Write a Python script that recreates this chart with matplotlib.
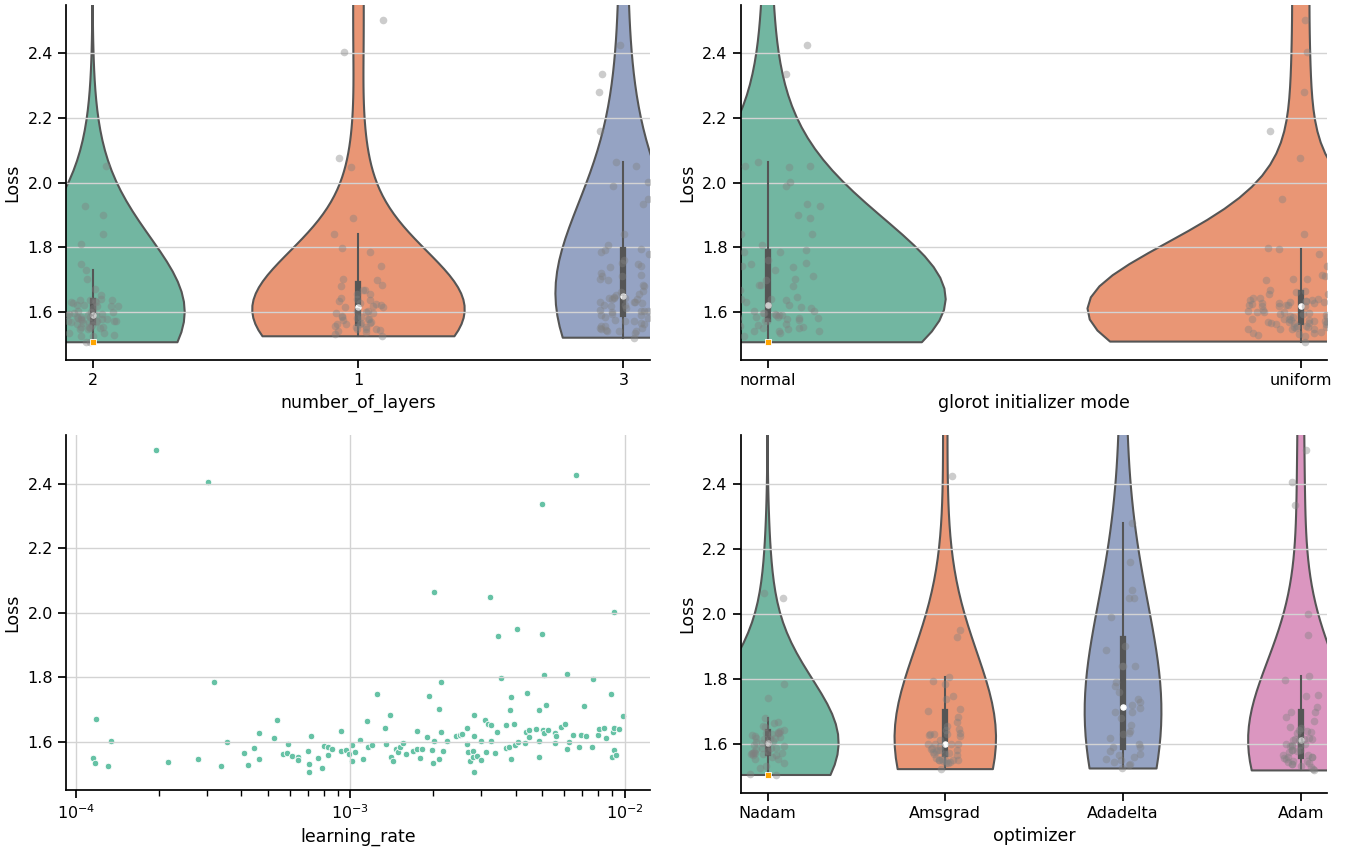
import numpy as np
import pandas as pd
import matplotlib
matplotlib.use("Agg")
import matplotlib.pyplot as plt
import seaborn as sns

# trials whose learning rate falls in the searched range (bottom-left scatter)
lr_trials = [
    1.96e-4, 3.02e-4, 3.18e-4, 1.18e-4, 1.34e-4, 1.15e-4, 1.17e-4, 1.31e-4, 2.17e-4, 2.79e-4,
    3.37e-4, 3.56e-4, 4.08e-4, 4.23e-4, 4.46e-4, 4.63e-4, 4.63e-4, 5.29e-4, 5.38e-4, 5.67e-4,
    5.89e-4, 5.93e-4, 6.15e-4, 6.45e-4, 6.45e-4, 7.03e-4, 7.04e-4, 7.04e-4, 7.16e-4, 7.63e-4,
    7.85e-4, 8.02e-4, 8.29e-4, 8.30e-4, 8.57e-4, 9.27e-4, 9.27e-4, 9.64e-4, 9.86e-4, 1.01e-3,
    1.01e-3, 1.04e-3, 1.084e-3, 1.114e-3, 1.15e-3, 1.155e-3, 1.195e-3, 1.25e-3, 1.34e-3, 1.344e-3,
    1.39e-3, 1.41e-3, 1.43e-3, 1.46e-3, 1.49e-3, 1.52e-3, 1.56e-3, 1.59e-3, 1.69e-3, 1.75e-3,
    1.75e-3, 1.79e-3, 1.82e-3, 1.90e-3, 1.94e-3, 1.99e-3, 2.00e-3, 2.01e-3, 2.02e-3, 2.11e-3,
    2.11e-3, 2.14e-3, 2.14e-3, 2.17e-3, 2.25e-3, 2.43e-3, 2.50e-3, 2.56e-3, 2.66e-3, 2.66e-3,
    2.67e-3, 2.72e-3, 2.79e-3, 2.79e-3, 2.82e-3, 2.83e-3, 2.83e-3, 2.90e-3, 2.99e-3, 2.99e-3,
    3.10e-3, 3.13e-3, 3.18e-3, 3.22e-3, 3.24e-3, 3.24e-3, 3.36e-3, 3.41e-3, 3.46e-3, 3.55e-3,
    3.70e-3, 3.70e-3, 3.78e-3, 3.82e-3, 3.83e-3, 3.84e-3, 3.94e-3, 3.98e-3, 4.06e-3, 4.09e-3,
    4.34e-3, 4.35e-3, 4.39e-3, 4.46e-3, 4.47e-3, 4.76e-3, 4.86e-3, 4.87e-3, 4.87e-3, 4.98e-3,
    5.00e-3, 5.02e-3, 5.07e-3, 5.07e-3, 5.16e-3, 5.26e-3, 5.55e-3, 5.56e-3, 5.63e-3, 5.86e-3,
    6.05e-3, 6.14e-3, 6.15e-3, 6.24e-3, 6.49e-3, 6.65e-3, 6.80e-3, 6.93e-3, 7.08e-3, 7.21e-3,
    7.57e-3, 7.65e-3, 7.95e-3, 8.07e-3, 8.36e-3, 8.55e-3, 8.92e-3, 9.00e-3, 9.04e-3, 9.10e-3,
    9.12e-3, 9.14e-3, 9.30e-3, 9.50e-3, 9.82e-3,
]
loss_trials = [
    2.505, 2.406, 1.784, 1.671, 1.603, 1.550, 1.534, 1.523, 1.538, 1.545,
    1.524, 1.599, 1.565, 1.527, 1.581, 1.626, 1.545, 1.611, 1.668, 1.561,
    1.565, 1.594, 1.555, 1.553, 1.543, 1.570, 1.530, 1.505, 1.617, 1.550,
    1.519, 1.587, 1.583, 1.560, 1.578, 1.633, 1.572, 1.574, 1.561, 1.589,
    1.540, 1.567, 1.605, 1.547, 1.665, 1.583, 1.589, 1.747, 1.641, 1.593,
    1.682, 1.552, 1.541, 1.576, 1.568, 1.582, 1.595, 1.561, 1.570, 1.633,
    1.578, 1.549, 1.578, 1.613, 1.742, 1.575, 1.533, 2.065, 1.601, 1.702,
    1.547, 1.784, 1.631, 1.572, 1.601, 1.617, 1.619, 1.625, 1.593, 1.643,
    1.568, 1.541, 1.572, 1.553, 1.616, 1.683, 1.507, 1.556, 1.543, 1.601,
    1.668, 1.567, 1.655, 2.049, 1.650, 1.601, 1.566, 1.630, 1.928, 1.796,
    1.652, 1.581, 1.584, 1.698, 1.739, 1.547, 1.656, 1.589, 1.950, 1.598,
    1.596, 1.630, 1.750, 1.635, 1.613, 1.638, 1.552, 1.698, 1.602, 1.934,
    2.336, 1.635, 1.807, 1.628, 1.714, 1.635, 1.628, 1.597, 1.617, 1.645,
    1.654, 1.576, 1.809, 1.600, 1.619, 2.425, 1.582, 1.621, 1.709, 1.617,
    1.584, 1.793, 1.619, 1.638, 1.642, 1.612, 1.747, 1.553, 1.631, 1.643,
    2.001, 1.573, 1.558, 1.640, 1.679,
]
# trials off the scatter: losses above the shown range, then the Adadelta runs
loss_other = [
    3.9, 2.75, 2.95, 4.6, 3.0, 2.9, 4.9, 4.2, 3.4,
    2.28, 2.16, 2.075, 2.05, 2.05, 1.99, 1.90, 1.89, 1.84, 1.84,
    1.84, 1.79, 1.78, 1.76, 1.74, 1.73, 1.72, 1.71, 1.70, 1.70,
    1.68, 1.66, 1.64, 1.635, 1.63, 1.62, 1.60, 1.59, 1.59, 1.58,
    1.57, 1.565, 1.56, 1.555, 1.55, 1.545, 1.54, 1.535, 1.525,
    2.7, 3.2, 3.6, 4.8, 2.9,
]

# one code per trial: scatter trials first, then the others
layers_codes = ("1132132213" "2212321312" "3212321232" "3123212312" "1232312213"
                "1231232132" "1321123322" "1132123123" "1321232313" "1231231221"
                "3213321332" "1332132133" "3231323123" "1223132331" "2321323123"
                "31231" "213213331"
                "3312332121" "3333323313" "3321321321" "321321321" "33231")
init_codes = ("UUNUNUNUUN" "NUUUNUUNUN" "UUNUUNUNNN" "UUUNNUUNUN" "UUUNUNUNUU"
              "NUNUUNUUNU" "NUUNNUUNNU" "UNUNUUNUNU" "UNUNUNUUNU" "NUUNUNUNNU"
              "UNUNNUUNUU" "NUNUNUNUNN" "NUNUUNUNUN" "UUNUNNUUNU" "NUUNUNNUUN"
              "NUNUN" "NNUNUUUUU"
              "UUUNNNNNNU" "NNUNUNNUNU" "NUNUNUNUNU" "NUNUNUNUN" "UNNNU")
opt_codes = ("AAMANMNMAM" "AMNNANANMA" "MNANMNANAM" "ANMANAMNAM" "AANMNMNANM"
             "AMNANMANMN" "AAMANMANAM" "MNNNMANMAN" "MANMNMNAMA" "NAMNAMNMMA"
             "NAMAMANNMA" "NMANMAMANA" "AMMNANMANM" "ANAMNMANMA" "NMANMAMNMA"
             "ANMAN" "AMANMAMAM" + "D" * 44)

layer_order = ["2", "1", "3"]
init_order = ["normal", "uniform"]
opt_order = ["Nadam", "Amsgrad", "Adadelta", "Adam"]
init_names = {"N": "normal", "U": "uniform"}
opt_names = {"N": "Nadam", "M": "Amsgrad", "D": "Adadelta", "A": "Adam"}

n_trials = len(loss_trials) + len(loss_other)
assert len(layers_codes) == len(init_codes) == len(opt_codes) == n_trials

df = pd.DataFrame({
    "learning_rate": lr_trials + [np.nan] * len(loss_other),
    "loss": loss_trials + loss_other,
    "number_of_layers": list(layers_codes),
    "glorot initializer mode": [init_names[c] for c in init_codes],
    "optimizer": [opt_names[c] for c in opt_codes],
})

palette = sns.color_palette("Set2")
plt.rcParams.update({
    "font.family": "DejaVu Sans",
    "axes.linewidth": 1.25,
    "xtick.major.size": 6, "ytick.major.size": 6,
    "xtick.major.width": 1.25, "ytick.major.width": 1.25,
    "xtick.minor.size": 4, "xtick.minor.width": 1,
})
np.random.seed(3)  # strip jitter

fig = plt.figure(figsize=(13.47, 8.48), dpi=100)
ax_layers = fig.add_axes([0.049, 0.5755, 0.4335, 0.4185])
ax_init = fig.add_axes([0.550, 0.5755, 0.4355, 0.4185])
ax_lr = fig.add_axes([0.049, 0.0684, 0.4335, 0.4185])
ax_opt = fig.add_axes([0.550, 0.0650, 0.4355, 0.4220])

best = df.loc[df["loss"].idxmin()]


def violin_panel(ax, col, order):
    n = len(order)
    sns.violinplot(data=df, x=col, y="loss", hue=col, order=order, hue_order=order,
                   palette=palette[:n], cut=0, inner="box", linewidth=1.5,
                   linecolor="#555555", density_norm="area", common_norm=True,
                   legend=False, ax=ax,
                   inner_kws=dict(box_width=4.5, whis_width=1.5, marker="o"))
    sns.stripplot(data=df, x=col, y="loss", order=order, color="gray",
                  alpha=0.4, size=5.5, jitter=True, ax=ax)
    ax.scatter([order.index(best[col])], [best["loss"]], marker="s", s=16,
               color="orange", edgecolor="white", linewidth=0.6, zorder=5)
    ax.set_xlim(-0.05 * (n - 1), 1.05 * (n - 1))
    ax.set_ylim(1.45, 2.55)
    ax.set_yticks([1.6, 1.8, 2.0, 2.2, 2.4])
    ax.set_xlabel(col, fontsize=12.5)
    ax.set_ylabel("Loss", fontsize=12.5)
    ax.tick_params(labelsize=11.5)
    ax.grid(axis="y", color="#d3d3d3", linewidth=1)
    sns.despine(ax=ax)


violin_panel(ax_layers, "number_of_layers", layer_order)
violin_panel(ax_init, "glorot initializer mode", init_order)
violin_panel(ax_opt, "optimizer", opt_order)

ax_lr.scatter(df["learning_rate"], df["loss"], s=22, color=palette[0],
              edgecolor="white", linewidth=0.6)
ax_lr.set_xscale("log")
ax_lr.set_xlim(10 ** -4.036, 10 ** -1.909)
ax_lr.set_ylim(1.45, 2.55)
ax_lr.set_yticks([1.6, 1.8, 2.0, 2.2, 2.4])
ax_lr.set_xlabel("learning_rate", fontsize=12.5)
ax_lr.set_ylabel("Loss", fontsize=12.5)
ax_lr.tick_params(labelsize=11.5)
ax_lr.grid(which="major", color="#d3d3d3", linewidth=1)
sns.despine(ax=ax_lr)

fig.savefig("out.png", dpi=100)
